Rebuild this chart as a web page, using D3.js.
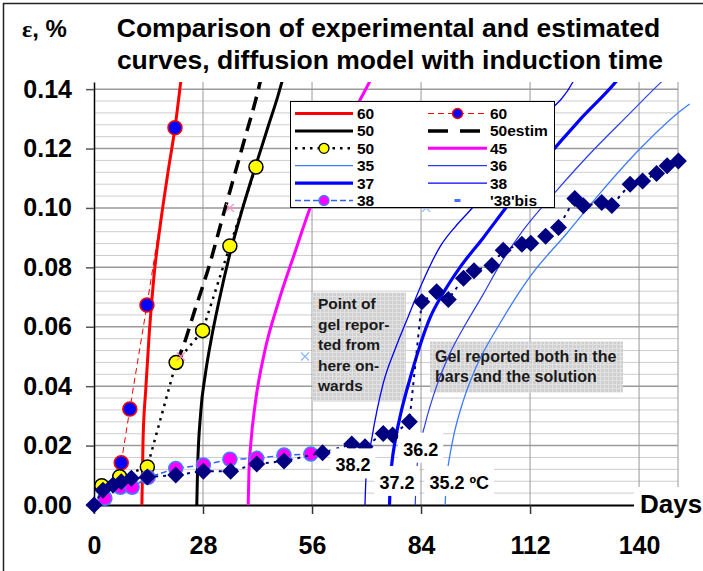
<!DOCTYPE html>
<html>
<head>
<meta charset="utf-8">
<script src="https://cdn.jsdelivr.net/npm/d3@7"></script>
<style>
  html, body { margin: 0; padding: 0; background: #fff; }
  svg { display: block; }
</style>
</head>
<body>
<svg id="chart" width="703" height="571"></svg>
<script>
/* ---- values: [days, strain %] ---- */

const X_TICKS = [0, 28, 56, 84, 112, 140];
const Y_TICKS = [0, 0.02, 0.04, 0.06, 0.08, 0.10, 0.12, 0.14];

// model curves (diffusion model with induction time)
const model60 = [[12.3,0],[12.6,0.022],[13.3,0.039],[14.2,0.058],[15.4,0.077],[17,0.094],[19,0.112],[20.8,0.127],[22.6,0.146]];
const model50 = [[26.4,0],[26.6,0.012],[27.4,0.031],[28.6,0.044],[30,0.055],[32,0.068],[34.9,0.0845],[38.2,0.1],[41.6,0.1145],[44.5,0.1265],[47.3,0.138],[48.6,0.144]];
const estim50 = [[21.1,0.048],[22.5,0.052],[25.9,0.0656],[29.4,0.0797],[33.7,0.1],[38,0.12],[42.6,0.142],[43.3,0.146]];
const model45 = [[39.6,0],[39.8,0.011],[40.3,0.021],[41.4,0.034],[43.9,0.052],[47.3,0.068],[51.6,0.085],[55.5,0.1],[60,0.114],[65,0.128],[69,0.138],[71,0.143]];
const model35 = [[90.2,0],[90.5,0.009],[91,0.0135],[92.5,0.024],[94.9,0.0353],[98,0.046],[104.3,0.0612],[112,0.0769],[121.4,0.0914],[130,0.105],[140.3,0.12],[150,0.132],[153,0.135]];
const model36 = [[82.5,0],[82.8,0.01],[83.6,0.019],[85,0.027],[88,0.04],[91.4,0.051],[95.5,0.061],[100,0.071],[104.3,0.081],[110.3,0.0926],[118.6,0.1055],[128.3,0.1195],[137,0.131],[145.4,0.142],[147,0.144]];
const model37 = [[75.9,0],[76.1,0.008],[76.5,0.014],[77.4,0.022],[78.6,0.0297],[81.6,0.0445],[86.3,0.063],[90,0.072],[94,0.08],[100,0.09],[106,0.1004],[115,0.115],[125,0.13],[134,0.1424],[135,0.144]];
const model38 = [[69.6,0],[69.9,0.01],[71.3,0.022],[74.3,0.041],[77.5,0.053],[80.7,0.0634],[84.2,0.0745],[88.9,0.087],[93,0.094],[97.4,0.1004],[105,0.115],[114,0.129],[123,0.1424],[124,0.145]];

// experimental points
const exp60 = [[7,0.0142],[9.2,0.0323],[13.6,0.0673],[20.8,0.127]];
const exp50 = [[2,0.0065],[6.6,0.0095],[13.7,0.0128],[21.1,0.048],[27.9,0.0587],[34.9,0.0872],[41.6,0.1138]];
const exp38 = [[2.8,0.0023],[6.8,0.006],[9.8,0.006],[13.9,0.0093],[21,0.0123],[28.1,0.0135],[34.9,0.0154],[41.8,0.0157],[48.8,0.0168],[55.7,0.0172]];
const exp38bis = [[0,0],[2.3,0.005],[4.9,0.0067],[7,0.0078],[9.6,0.009],[13.7,0.0094],[21,0.0101],[28.1,0.0114],[35.1,0.0114],[41.8,0.0138],[48.8,0.0148],[58.7,0.0176],[66.2,0.0205],[69.6,0.0196],[74.3,0.0241],[76.7,0.0236],[81,0.028],[84.2,0.0684],[88,0.0718],[91,0.0692],[94.9,0.0763],[97.6,0.0789],[102.2,0.0806],[105.1,0.0858],[109.9,0.0878],[112.2,0.0881],[116,0.0905],[119.3,0.0934],[123.5,0.1032],[125.7,0.1007],[130.4,0.1018],[133,0.1008],[137.7,0.108],[140.9,0.1091],[144.5,0.1116],[147.2,0.1142],[150.1,0.1158]];

// estimation marks (x)
const marks50 = [[22.3,0.05],[34.9,0.1]];
const marks38 = [[54.2,0.05],[85.3,0.1]];

const legendNames = ["60","60","50","50estim","50","45","35","36","37","38","38","'38'bis"];
const tempLabels = ["38.2","36.2","37.2","35.2 ºC"];
const noteGel = ["Point of","gel repor-","ted from","here on-","wards"];
const noteBoth = ["Gel reported both in the","bars and the solution"];
const titleLines = ["Comparison of experimental and estimated","curves, diffusion model with induction time"];

/* ---- layout ---- */
const FONT = "'Liberation Sans', Arial, Helvetica, sans-serif";
const W = 703, H = 571;
const Y_MAX = 0.1424;

const svg = d3.select("#chart").attr("font-family", FONT);
const x = d3.scaleLinear().domain([0, 150]).range([94, 678]);
const y = d3.scaleLinear().domain([0, Y_MAX]).range([505, 82]);

const defs = svg.append("defs");
defs.append("clipPath").attr("id", "plotClip").append("rect")
  .attr("x", x(0)).attr("y", y(Y_MAX))
  .attr("width", x(150) - x(0) + 12).attr("height", y(0) - y(Y_MAX) + 1);
const pat = defs.append("pattern").attr("id", "hatch")
  .attr("width", 4).attr("height", 4).attr("patternUnits", "userSpaceOnUse");
pat.append("rect").attr("width", 4).attr("height", 4).attr("fill", "#d0d0d0");
pat.append("path").attr("d", "M0,0.5H4M0.5,0V4").attr("stroke", "#e2e2e2").attr("stroke-width", 1);

// outer frame
svg.append("rect").attr("x", 3.5).attr("y", 3.5).attr("width", W + 20).attr("height", H + 20)
  .attr("fill", "none").attr("stroke", "#222").attr("stroke-width", 1.5);

/* ---- gridlines ---- */
const grid = svg.append("g");
const minorY = d3.range(1, 36).filter(i => i % 5 !== 0).map(i => i * 0.004);
grid.selectAll("line.minor").data(minorY).enter().append("line")
  .attr("x1", x(0)).attr("x2", x(150)).attr("y1", d => y(d)).attr("y2", d => y(d))
  .attr("stroke", "#cdcdcd").attr("stroke-width", 1);
grid.selectAll("line.major").data(Y_TICKS.slice(1)).enter().append("line")
  .attr("x1", x(0)).attr("x2", x(150)).attr("y1", d => y(d)).attr("y2", d => y(d))
  .attr("stroke", "#9a9a9a").attr("stroke-width", 1.5);
grid.selectAll("line.vert").data(X_TICKS.slice(1).concat([150])).enter().append("line")
  .attr("x1", d => x(d)).attr("x2", d => x(d)).attr("y1", y(Y_MAX)).attr("y2", y(0))
  .attr("stroke", "#999").attr("stroke-width", 1);

/* ---- shaded notes ---- */
function note(lines, bx, by, bw, bh, tx, ty, step, fs) {
  const g = svg.append("g");
  g.append("rect").attr("x", bx).attr("y", by).attr("width", bw).attr("height", bh).attr("fill", "url(#hatch)");
  g.selectAll("text").data(lines).enter().append("text")
    .attr("x", tx).attr("y", (d, i) => ty + i * step)
    .attr("font-size", fs).attr("font-weight", "bold").attr("fill", "#1a1a1a")
    .text(d => d);
}
note(noteGel, 312.5, 292.5, 93.5, 109, 318, 309, 20.6, 15.5);
note(noteBoth, 430, 341.5, 193, 51, 435, 361.5, 20, 16);

/* ---- axes ---- */
const yAxis = svg.append("g").attr("transform", `translate(${x(0)},0)`)
  .call(d3.axisLeft(y).tickValues(Y_TICKS).tickFormat(d3.format(".2f")).tickSize(8).tickSizeOuter(0).tickPadding(14));
yAxis.attr("font-family", FONT).attr("font-size", 25).attr("font-weight", "bold");
yAxis.select(".domain").attr("stroke", "#000").attr("stroke-width", 1.5);
yAxis.selectAll(".tick line").attr("stroke", "#555").attr("stroke-width", 1.5);
yAxis.selectAll(".tick text").attr("fill", "#000");

const xAxis = svg.append("g").attr("transform", `translate(0,${y(0)})`)
  .call(d3.axisBottom(x).tickValues(X_TICKS).tickSize(9).tickSizeOuter(0).tickPadding(22));
xAxis.attr("font-family", FONT).attr("font-size", 25).attr("font-weight", "bold");
xAxis.select(".domain").attr("stroke", "#000").attr("stroke-width", 2);
xAxis.selectAll(".tick line").attr("stroke", "#333").attr("stroke-width", 1.5);
xAxis.selectAll(".tick text").attr("fill", "#000");

/* ---- series ---- */
const STYLE = {
  m60:   { stroke: "#ff0000", w: 3 },
  e60:   { stroke: "#ff0000", w: 1, dash: "6,4", fill: "#0000ff", mstroke: "#ff0000" },
  m50:   { stroke: "#000", w: 3 },
  est50: { stroke: "#000", w: 3.5, dash: "14,8" },
  e50:   { stroke: "#000", w: 2.5, dash: "2.5,5", fill: "#ffff00", mstroke: "#000" },
  m45:   { stroke: "#ff00ff", w: 3 },
  m35:   { stroke: "#3d7bff", w: 1.3 },
  m36:   { stroke: "#2a3cf0", w: 1.2 },
  m37:   { stroke: "#0000ff", w: 3.2 },
  m38:   { stroke: "#0000ff", w: 1.3 },
  e38:   { stroke: "#2f5fff", w: 1.5, dash: "6,3", fill: "#ff00ff", mstroke: "#3f7fff" },
  bis:   { stroke: "#3f6fff" }
};

const smooth = d3.line().x(d => x(d[0])).y(d => y(d[1])).curve(d3.curveMonotoneX);
const straight = d3.line().x(d => x(d[0])).y(d => y(d[1]));
const plot = svg.append("g");

function drawSeries(data, st, gen) {
  plot.append("path").datum(data)
    .attr("clip-path", "url(#plotClip)")
    .attr("d", gen)
    .attr("fill", "none")
    .attr("stroke", st.stroke)
    .attr("stroke-width", st.w)
    .attr("stroke-dasharray", st.dash || null)
    .attr("stroke-linejoin", "round");
  if (st.fill) {
    plot.append("g").selectAll("circle").data(data).enter().append("circle")
      .attr("cx", d => x(d[0])).attr("cy", d => y(d[1])).attr("r", 7)
      .attr("fill", st.fill).attr("stroke", st.mstroke).attr("stroke-width", 1.5);
  }
}

drawSeries(model60, STYLE.m60, smooth);
drawSeries(exp60, STYLE.e60, straight);
drawSeries(model50, STYLE.m50, smooth);
drawSeries(estim50, STYLE.est50, smooth);
drawSeries(exp50, STYLE.e50, straight);
drawSeries(model45, STYLE.m45, smooth);
drawSeries(model35, STYLE.m35, smooth);
drawSeries(model36, STYLE.m36, smooth);
drawSeries(model37, STYLE.m37, smooth);
drawSeries(model38, STYLE.m38, smooth);
drawSeries(exp38, STYLE.e38, straight);

// x marks
function crosses(data, color) {
  plot.append("g").selectAll("path").data(data).enter().append("path")
    .attr("transform", d => `translate(${x(d[0])},${y(d[1])})`)
    .attr("d", "M-4,-4L4,4M-4,4L4,-4")
    .attr("stroke", color).attr("stroke-width", 1.2).attr("fill", "none");
}
crosses(marks50, "#ff88c4");
crosses(marks38, "#88b8ff");

// navy diamonds with dotted line
plot.append("path").datum(exp38bis)
  .attr("d", straight).attr("fill", "none")
  .attr("stroke", "#000080").attr("stroke-width", 2).attr("stroke-dasharray", "3,5");
plot.append("g").selectAll("path").data(exp38bis).enter().append("path")
  .attr("transform", d => `translate(${x(d[0])},${y(d[1])})`)
  .attr("d", "M0,-8.5L8.5,0L0,8.5L-8.5,0Z")
  .attr("fill", "#000080");

/* ---- temperature labels on white boxes ---- */
const labelSpots = [[66.5, 0.0135], [83.9, 0.0188], [77.8, 0.0076], [93.8, 0.0076]];
tempLabels.forEach((t, i) => {
  const g = svg.append("g");
  const txt = g.append("text")
    .attr("x", x(labelSpots[i][0])).attr("y", y(labelSpots[i][1]) + 6.5)
    .attr("text-anchor", "middle").attr("font-size", 18).attr("font-weight", "bold")
    .attr("fill", "#000").text(t);
  const bb = txt.node().getBBox();
  g.insert("rect", "text")
    .attr("x", bb.x - 5).attr("y", bb.y - 7)
    .attr("width", bb.width + 10).attr("height", bb.height + 10)
    .attr("fill", "#fff");
});

/* ---- legend ---- */
const leg = svg.append("g");
leg.append("rect").attr("x", 290.5).attr("y", 101.5).attr("width", 264).attr("height", 106)
  .attr("fill", "#fff").attr("stroke", "#000").attr("stroke-width", 1);
const legKeys = ["m60","e60","m50","est50","e50","m45","m35","m36","m37","m38","e38","bis"];
const colX0 = [295, 428], colX1 = [353, 487], colTx = [357, 490];
legKeys.forEach((k, i) => {
  const c = i % 2, r = Math.floor(i / 2);
  const cy = 113.5 + r * 17.4;
  const st = STYLE[k];
  if (k === "bis") {
    leg.append("rect").attr("x", (colX0[c] + colX1[c]) / 2 - 3).attr("y", cy - 1.5)
      .attr("width", 6).attr("height", 3).attr("fill", st.stroke);
  } else {
    leg.append("line").attr("x1", colX0[c]).attr("x2", colX1[c]).attr("y1", cy).attr("y2", cy)
      .attr("stroke", st.stroke).attr("stroke-width", st.w)
      .attr("stroke-dasharray", k === "est50" ? "20,12" : (st.dash || null));
    if (st.fill) {
      leg.append("circle").attr("cx", (colX0[c] + colX1[c]) / 2).attr("cy", cy).attr("r", 5)
        .attr("fill", st.fill).attr("stroke", st.mstroke).attr("stroke-width", 1.3);
    }
  }
  leg.append("text").attr("x", colTx[c]).attr("y", cy + 5.5)
    .attr("font-size", 15.5).attr("font-weight", "bold").attr("fill", "#000")
    .text(legendNames[i]);
});

/* ---- axis title, chart title ---- */
svg.append("rect").attr("x", 634).attr("y", 487).attr("width", 80).attr("height", 32).attr("fill", "#fff");
svg.append("text").attr("x", 640).attr("y", 513)
  .attr("font-size", 26).attr("font-weight", "bold").attr("fill", "#000").text("Days");

const eps = svg.append("text").attr("x", 22).attr("y", 37)
  .attr("font-size", 24).attr("font-weight", "bold").attr("fill", "#000");
eps.append("tspan").attr("font-family", "'Liberation Serif', 'Times New Roman', serif").text("ε");
eps.append("tspan").text(", %");

svg.selectAll("text.title").data(titleLines).enter().append("text")
  .attr("class", "title")
  .attr("x", (d, i) => i ? 390 : 388.5).attr("y", (d, i) => 37 + i * 32)
  .attr("text-anchor", "middle").attr("font-size", 26.5).attr("font-weight", "bold")
  .attr("fill", "#000").text(d => d);
</script>
</body>
</html>
